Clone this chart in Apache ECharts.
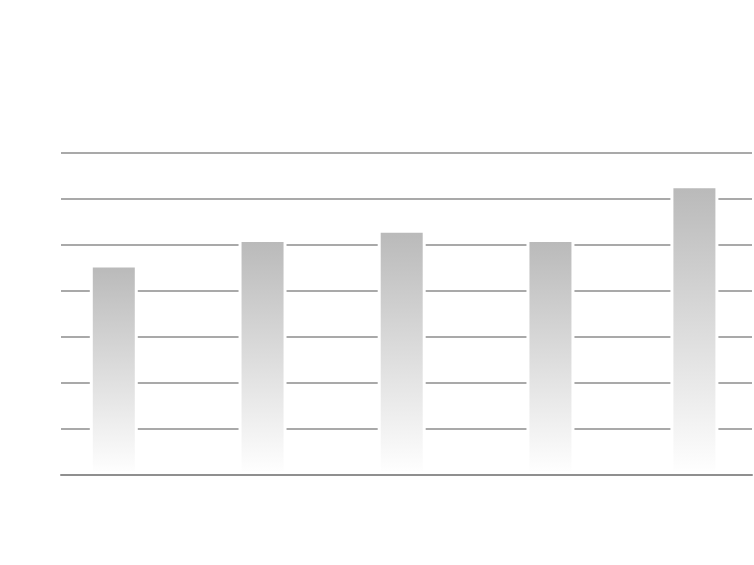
<!DOCTYPE html>
<html>
<head>
<meta charset="utf-8">
<script src="https://cdn.jsdelivr.net/npm/echarts@6/dist/echarts.min.js"></script>
<style>
  html, body { margin: 0; padding: 0; background: #ffffff; }
  #chart { width: 754px; height: 565px; }
</style>
</head>
<body>
<div id="chart"></div>
<script>
  // monthly bars, no labels shown in the picture
  const months = ['2020-01-01', '2020-02-01', '2020-03-01', '2020-04-01', '2020-05-01'];
  const values = [45.7, 51.3, 53.3, 51.3, 63.0];
  const yTicks = [0, 10, 20, 30, 40, 50, 60, 70];

  const chart = echarts.init(document.getElementById('chart'));

  chart.setOption({
    animation: false,
    grid: { left: 61, right: 2, top: 153, bottom: 90.5 },
    xAxis: {
      type: 'time',
      // echarts pads the time extent by half a bar on each side
      min: '2019-12-26',
      max: '2020-05-08',
      z: 5,
      axisLine: { show: true, lineStyle: { color: '#8f8f8f', width: 2 } },
      axisTick: { show: false },
      axisLabel: { show: false },
      splitLine: { show: false }
    },
    yAxis: {
      type: 'value',
      min: yTicks[0],
      max: yTicks[yTicks.length - 1],
      interval: yTicks[1] - yTicks[0],
      axisLine: { show: false },
      axisTick: { show: false },
      axisLabel: { show: false },
      splitLine: { show: true, lineStyle: { color: '#8c8c8c', width: 1.5 } }
    },
    series: [{
      type: 'bar',
      barWidth: 48,
      data: months.map((m, i) => [m, values[i]]),
      itemStyle: {
        borderColor: '#ffffff',
        borderWidth: 3,
        color: {
          type: 'linear', x: 0, y: 0, x2: 0, y2: 1,
          colorStops: [
            { offset: 0, color: '#b9b9b9' },
            { offset: 1, color: '#ffffff' }
          ]
        }
      }
    }]
  });
</script>
</body>
</html>
